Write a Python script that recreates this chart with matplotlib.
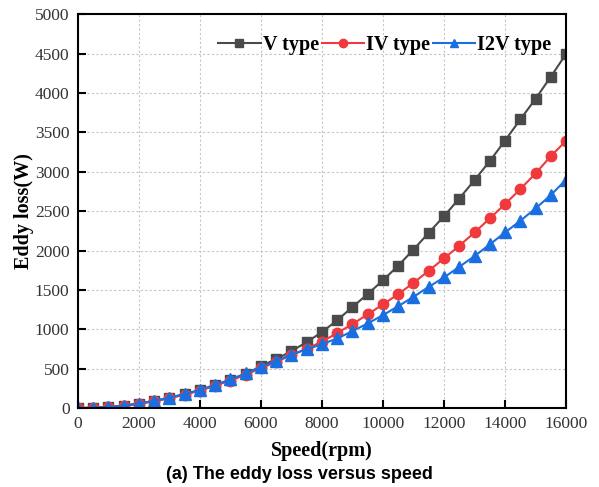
import numpy as np
import matplotlib.pyplot as plt

speed = np.arange(0, 16001, 500)

v_type = [0, 5, 15, 30, 58, 92, 132, 178, 228, 288, 355, 428, 535, 622, 723, 838,
          965, 1115, 1283, 1448, 1622, 1808, 2012, 2225, 2436, 2660, 2893, 3135,
          3395, 3663, 3925, 4205, 4495]
iv_type = [0, 4, 13, 28, 55, 85, 125, 170, 222, 285, 350, 425, 505, 585, 673, 755,
           842, 954, 1066, 1190, 1316, 1447, 1590, 1743, 1900, 2060, 2229, 2407,
           2589, 2779, 2978, 3198, 3392]
i2v_type = [0, 5, 15, 30, 58, 92, 132, 178, 232, 295, 365, 440, 520, 600, 680, 745,
            812, 884, 977, 1075, 1180, 1294, 1412, 1539, 1658, 1793, 1929, 2077,
            2229, 2377, 2534, 2703, 2900]

serif = ['Liberation Serif', 'DejaVu Serif']

fig = plt.figure(figsize=(5.99, 4.87), dpi=100)
ax = fig.add_axes([0.130, 0.162, 0.815, 0.809])

ax.plot(speed, v_type, marker='s', color='#4a4a4a', markersize=7, linewidth=1.5, label='V type')
ax.plot(speed, iv_type, marker='o', color='#f0393d', markersize=7.5, linewidth=1.5, label='IV type')
ax.plot(speed, i2v_type, marker='^', color='#1a6fe0', markersize=8, linewidth=1.5, label='I2V type')

ax.set_xlim(0, 16000)
ax.set_ylim(0, 5000)
ax.set_xticks(np.arange(0, 16001, 2000))
ax.set_yticks(np.arange(0, 5001, 500))
ax.grid(True, linestyle=(0, (2, 2)), color='#c4c4c4', linewidth=0.8)
ax.tick_params(direction='in', length=6, width=1.5, labelsize=12.5, pad=6,
               labelcolor='#333333')
for lab in ax.get_xticklabels() + ax.get_yticklabels():
    lab.set_family(serif)
for s in ax.spines.values():
    s.set_linewidth(1.5)

ax.set_xlabel('Speed(rpm)', fontsize=14.5, fontweight='bold', family=serif, labelpad=6)
ax.set_ylabel('Eddy loss(W)', fontsize=14.5, fontweight='bold', family=serif, labelpad=1)

ax.legend(loc='upper right', bbox_to_anchor=(0.995, 0.978), ncol=3, frameon=False,
          prop={'family': serif, 'weight': 'bold', 'size': 14.5}, markerscale=0.8,
          handlelength=2.1, handletextpad=0.1, columnspacing=0.15, borderaxespad=0.2)

fig.text(0.5, 0.025, '(a) The eddy loss versus speed', ha='center', va='center',
         fontsize=13, fontweight='bold', family=['Liberation Sans', 'DejaVu Sans'])

fig.savefig('out.png', dpi=100)
